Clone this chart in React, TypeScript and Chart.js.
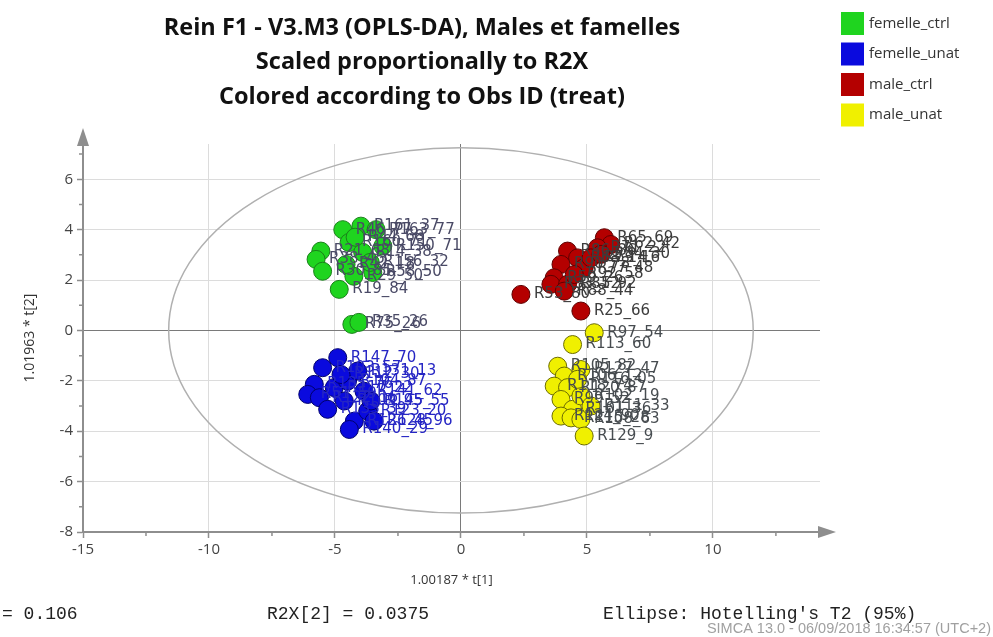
import React, { useEffect, useRef } from "react";
import { Chart, registerables } from "chart.js";

Chart.register(...registerables);

// Group (Obs ID treat) names
const groupNames = ["femelle_ctrl", "femelle_unat", "male_ctrl", "male_unat"];

// Score values: t[1] (predictive) and t[2] (orthogonal), scaled
const femelleCtrlT1 = [-4.69, -3.97, -3.37, -5.56, -5.75, -5.49, -4.83, -4.44, -3.9, -4.25, -3.5, -3.1, -4.56, -4.33, -4.05, -4.2, -3.6];
const femelleCtrlT2 = [4.0, 4.14, 4.0, 3.15, 2.82, 2.35, 1.63, 3.49, 3.1, 2.15, 2.3, 3.35, 2.62, 0.24, 0.32, 3.7, 2.7];
const femelleCtrlIds = ["R46_77", "R161_37", "R163_77", "R21_63", "R38_45", "R30_85", "R19_84", "R160_71", "R14_38", "R29_50", "R58_50", "R150_71", "R42_18", "R75_26", "R35_26", "R44_68", "R156_32"];

const femelleUnatT1 = [-4.89, -5.49, -5.82, -6.08, -5.62, -5.29, -5.03, -4.5, -4.1, -4.63, -4.23, -4.43, -3.7, -3.45, -3.85, -3.57, -4.76];
const femelleUnatT2 = [-1.08, -1.48, -2.14, -2.54, -2.67, -3.13, -2.27, -2.01, -1.61, -2.8, -3.6, -3.93, -3.2, -3.6, -2.41, -2.8, -1.75];
const femelleUnatIds = ["R147_70", "R103_57", "R135_76", "R51_59", "R122_16", "R133_39", "R117_22", "R104_87", "R131_13", "R109_95", "R126_45", "R140_29", "R123_20", "R128_96", "R141_62", "R145_55", "R112_30"];

const maleCtrlT1 = [2.38, 4.76, 5.69, 5.95, 5.42, 4.23, 4.63, 3.97, 4.89, 3.7, 3.57, 4.23, 5.16, 5.56, 4.5, 4.1];
const maleCtrlT2 = [1.43, 0.77, 3.68, 3.41, 3.28, 3.15, 2.88, 2.62, 2.49, 2.09, 1.83, 1.83, 2.88, 3.02, 2.22, 1.56];
const maleCtrlIds = ["R53_80", "R25_66", "R65_69", "R62_42", "R71_22", "R86_36", "R68_14", "R90_78", "R77_48", "R59_26", "R33_52", "R81_92", "R73_16", "R84_30", "R92_58", "R88_44"];

const maleUnatT1 = [5.29, 4.43, 3.84, 4.1, 3.7, 4.23, 3.97, 4.43, 3.97, 4.37, 4.76, 4.89, 4.76, 4.76, 5.16, 4.63];
const maleUnatT2 = [-0.09, -0.56, -1.42, -1.81, -2.21, -2.27, -2.74, -3.13, -3.4, -3.47, -3.53, -4.19, -1.55, -2.6, -3.0, -1.94];
const maleUnatIds = ["R97_54", "R113_60", "R105_82", "R106_12", "R118_74", "R120_87", "R99_52", "R101_36", "R124_90", "R115_28", "R108_63", "R129_9", "R127_47", "R102_19", "R111_33", "R116_05"];

// Axis ticks
const xTickValues = [-15, -10, -5, 0, 5, 10];
const yTickValues = [-8, -6, -4, -2, 0, 2, 4, 6];
const xMinorValues = [-12.5, -7.5, -2.5, 2.5, 7.5, 12.5];
const yMinorValues = [-7, -5, -3, -1, 1, 3, 5, 7];

// Hotelling's T2 (95%) ellipse semi-axes
const ellipseT1 = 11.6;
const ellipseT2 = 7.25;

// Text
const titleLines = [
  "Rein F1 - V3.M3 (OPLS-DA), Males et famelles",
  "Scaled proportionally to R2X",
  "Colored according to Obs ID (treat)",
];
const xAxisTitle = "1.00187 * t[1]";
const yAxisTitle = "1.01963 * t[2]";
const r2x1Text = "= 0.106";
const r2x2Text = "R2X[2] = 0.0375";
const ellipseText = "Ellipse: Hotelling's T2 (95%)";
const stampText = "SIMCA 13.0 - 06/09/2018 16:34:57 (UTC+2)";

const fills = ["#1fd41f", "#0a0ade", "#b40000", "#f0f000"];
const borders = ["#1a7f1a", "#00006e", "#5e0000", "#6c6c00"];
const labelColors = ["#4a4a66", "#2626c4", "#3c3c3c", "#474c50"];

const groups = [
  { t1: femelleCtrlT1, t2: femelleCtrlT2, ids: femelleCtrlIds },
  { t1: femelleUnatT1, t2: femelleUnatT2, ids: femelleUnatIds },
  { t1: maleCtrlT1, t2: maleCtrlT2, ids: maleCtrlIds },
  { t1: maleUnatT1, t2: maleUnatT2, ids: maleUnatIds },
];

const GRAY_AXIS = "#8e8e8e";

const ellipsePlugin = {
  id: "hotellingEllipse",
  beforeDatasetsDraw(chart: any) {
    const { ctx, scales } = chart;
    const cx = scales.x.getPixelForValue(0);
    const cy = scales.y.getPixelForValue(0);
    const rx = scales.x.getPixelForValue(ellipseT1) - cx;
    const ry = cy - scales.y.getPixelForValue(ellipseT2);
    ctx.save();
    ctx.beginPath();
    ctx.ellipse(cx, cy, rx, ry, 0, 0, Math.PI * 2);
    ctx.strokeStyle = "#b0b0b0";
    ctx.lineWidth = 1.5;
    ctx.stroke();
    ctx.restore();
  },
};

const pointLabelPlugin = {
  id: "obsLabels",
  afterDatasetsDraw(chart: any) {
    const { ctx } = chart;
    ctx.save();
    ctx.font = '15px "DejaVu Sans"';
    ctx.textAlign = "left";
    ctx.textBaseline = "middle";
    chart.data.datasets.forEach((ds: any, i: number) => {
      const meta = chart.getDatasetMeta(i);
      ctx.fillStyle = labelColors[i];
      meta.data.forEach((el: any, j: number) => {
        ctx.fillText(ds.data[j].id, el.x + 13, el.y);
      });
    });
    ctx.restore();
  },
};

const axisDecorPlugin = {
  id: "axisDecor",
  afterDraw(chart: any) {
    const { ctx, chartArea, scales } = chart;
    const { left, right, top, bottom } = chartArea;
    ctx.save();
    ctx.strokeStyle = GRAY_AXIS;
    ctx.fillStyle = GRAY_AXIS;
    ctx.lineWidth = 1.5;
    // minor ticks
    ctx.beginPath();
    yMinorValues.forEach((v) => {
      const y = scales.y.getPixelForValue(v);
      if (y >= top && y <= bottom) {
        ctx.moveTo(left - 4, y);
        ctx.lineTo(left, y);
      }
    });
    xMinorValues.forEach((v) => {
      const x = scales.x.getPixelForValue(v);
      if (x >= left && x <= right) {
        ctx.moveTo(x, bottom);
        ctx.lineTo(x, bottom + 4);
      }
    });
    ctx.stroke();
    // arrowheads
    ctx.beginPath();
    ctx.moveTo(left - 6, top + 2);
    ctx.lineTo(left + 6, top + 2);
    ctx.lineTo(left, top - 16);
    ctx.closePath();
    ctx.fill();
    ctx.beginPath();
    ctx.moveTo(right - 2, bottom - 6);
    ctx.lineTo(right - 2, bottom + 6);
    ctx.lineTo(right + 16, bottom);
    ctx.closePath();
    ctx.fill();

    // title
    ctx.fillStyle = "#111";
    ctx.textAlign = "center";
    ctx.textBaseline = "middle";
    ctx.font = 'bold 23.5px "Open Sans"';
    titleLines.forEach((line, i) => ctx.fillText(line, 422, 28 + i * 34.5));

    // legend
    ctx.textAlign = "left";
    ctx.font = '15px "Open Sans"';
    chart.data.datasets.forEach((ds: any, i: number) => {
      const y0 = 12 + i * 30.5;
      ctx.fillStyle = fills[i];
      ctx.fillRect(841, y0, 23, 23);
      ctx.fillStyle = "#333";
      ctx.fillText(ds.label, 869, y0 + 11.5);
    });

    // footer
    ctx.font = '18px "Liberation Mono"';
    ctx.fillStyle = "#222";
    ctx.fillText(r2x1Text, 2, 614);
    ctx.fillText(r2x2Text, 267, 614);
    ctx.fillText(ellipseText, 603, 614);
    ctx.font = '14.5px "Liberation Sans"';
    ctx.fillStyle = "#a0a0a0";
    ctx.textAlign = "right";
    ctx.fillText(stampText, 991, 629);
    ctx.restore();
  },
};

export default function App() {
  const canvasRef = useRef<HTMLCanvasElement | null>(null);

  useEffect(() => {
    const canvas = canvasRef.current;
    if (!canvas) return;
    const chart = new Chart(canvas, {
      type: "scatter",
      data: {
        datasets: groups.map((g, i) => ({
          label: groupNames[i],
          data: g.t1.map((x, j) => ({ x, y: g.t2[j], id: g.ids[j] })),
          backgroundColor: fills[i],
          borderColor: borders[i],
          borderWidth: 1,
          pointRadius: 9,
        })),
      },
      options: {
        animation: false,
        responsive: false,
        events: [],
        layout: { padding: { top: 144, right: 173, bottom: 45, left: 0 } },
        plugins: {
          legend: { display: false },
          tooltip: { enabled: false },
          title: { display: false },
        },
        scales: {
          x: {
            type: "linear",
            min: -15,
            max: 14.25,
            afterBuildTicks: (scale: any) => {
              scale.ticks = xTickValues.map((v) => ({ value: v }));
            },
            afterFit: (scale: any) => {
              scale.height = 60;
            },
            ticks: {
              callback: (v: any) => String(v),
              color: "#444",
              font: { family: "Open Sans", size: 15 },
              padding: 3,
              maxRotation: 0,
            },
            grid: {
              color: (c: any) =>
                c.tick && c.tick.value === 0 ? "#7a7a7a" : c.tick && c.tick.value === -15 ? "rgba(0,0,0,0)" : "#dcdcdc",
              lineWidth: 1,
              tickLength: 6,
              tickColor: GRAY_AXIS,
              tickWidth: 1.5,
            },
            border: { display: true, color: GRAY_AXIS, width: 2 },
            title: {
              display: true,
              text: xAxisTitle,
              color: "#333",
              font: { family: "Open Sans", size: 13 },
              padding: { top: 0, bottom: 4 },
            },
          },
          y: {
            type: "linear",
            min: -8,
            max: 7.4,
            afterBuildTicks: (scale: any) => {
              scale.ticks = yTickValues.map((v) => ({ value: v }));
            },
            afterFit: (scale: any) => {
              scale.width = 83;
            },
            ticks: {
              callback: (v: any) => String(v),
              color: "#444",
              font: { family: "Open Sans", size: 15 },
              padding: 4,
            },
            grid: {
              color: (c: any) =>
                c.tick && c.tick.value === 0 ? "#7a7a7a" : c.tick && c.tick.value === -8 ? "rgba(0,0,0,0)" : "#dcdcdc",
              lineWidth: 1,
              tickLength: 6,
              tickColor: GRAY_AXIS,
              tickWidth: 1.5,
            },
            border: { display: true, color: GRAY_AXIS, width: 2 },
            title: {
              display: true,
              text: yAxisTitle,
              color: "#333",
              font: { family: "Open Sans", size: 14 },
              padding: { top: 22, bottom: 0 },
            },
          },
        },
      },
      plugins: [ellipsePlugin, pointLabelPlugin, axisDecorPlugin],
    } as any);
    return () => chart.destroy();
  }, []);

  return (
    <div style={{ position: "fixed", left: 0, top: 0, width: 993, height: 637, background: "#fff" }}>
      <canvas ref={canvasRef} width={993} height={637} style={{ display: "block", width: 993, height: 637 }} />
    </div>
  );
}
